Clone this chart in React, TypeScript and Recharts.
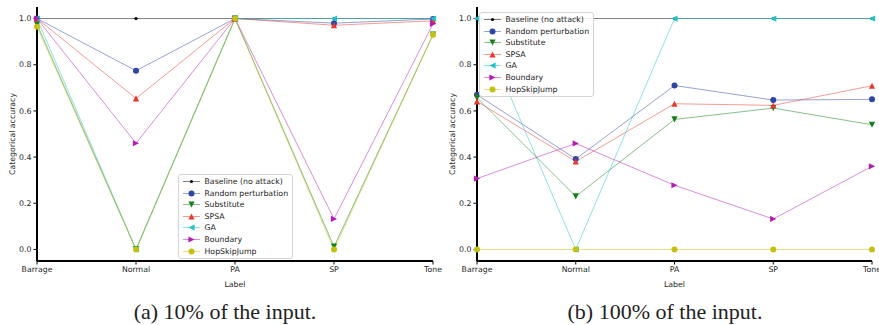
import { Legend, Line, LineChart, XAxis, YAxis } from "recharts";

const categories = ["Barrage", "Normal", "PA", "SP", "Tone"];
const yTicks = [0, 0.2, 0.4, 0.6, 0.8, 1.0];

// (a) 10% of the input
const baseline10 = [1, 1, 1, 1, 1];
const random10 = [1, 0.774, 1, 0.98, 0.998];
const substitute10 = [0.975, 0, 1, 0.012, 0.93];
const spsa10 = [1, 0.654, 1, 0.971, 0.99];
const ga10 = [1, 0, 1, 1, 1];
const boundary10 = [1, 0.46, 1, 0.132, 0.977];
const hop10 = [0.965, 0, 1, 0, 0.93];

// (b) 100% of the input
const baseline100 = [1, 1, 1, 1, 1];
const random100 = [0.67, 0.392, 0.71, 0.647, 0.65];
const substitute100 = [0.657, 0.23, 0.563, 0.612, 0.54];
const spsa100 = [0.641, 0.381, 0.631, 0.624, 0.709];
const ga100 = [1, 0, 1, 1, 1];
const boundary100 = [0.307, 0.459, 0.278, 0.132, 0.36];
const hop100 = [0, 0, 0, 0, 0];

const series = [
  { key: "baseline", name: "Baseline (no attack)", color: "#000000", marker: "dot" },
  { key: "random", name: "Random perturbation", color: "#2e45a6", marker: "o" },
  { key: "substitute", name: "Substitute", color: "#14801a", marker: "v" },
  { key: "spsa", name: "SPSA", color: "#e8392e", marker: "^" },
  { key: "ga", name: "GA", color: "#22c2c6", marker: "<" },
  { key: "boundary", name: "Boundary", color: "#b41db4", marker: ">" },
  { key: "hop", name: "HopSkipJump", color: "#c4c010", marker: "o" },
];

const buildRows = (vals: number[][]) =>
  categories.map((name, i) => {
    const row: any = { name };
    series.forEach((s, j) => {
      row[s.key] = vals[j][i];
    });
    return row;
  });

const data10 = buildRows([baseline10, random10, substitute10, spsa10, ga10, boundary10, hop10]);
const data100 = buildRows([baseline100, random100, substitute100, spsa100, ga100, boundary100, hop100]);

const FONT = "'DejaVu Sans', sans-serif";

const Marker = ({ kind, cx, cy, color }: any) => {
  const s = 3.1;
  if (kind === "dot") return <circle cx={cx} cy={cy} r={1.6} fill={color} />;
  if (kind === "o") return <circle cx={cx} cy={cy} r={3} fill={color} />;
  let pts = "";
  if (kind === "v") pts = `${cx - s},${cy - s} ${cx + s},${cy - s} ${cx},${cy + s}`;
  if (kind === "^") pts = `${cx - s},${cy + s} ${cx + s},${cy + s} ${cx},${cy - s}`;
  if (kind === "<") pts = `${cx + s},${cy - s} ${cx + s},${cy + s} ${cx - s},${cy}`;
  if (kind === ">") pts = `${cx - s},${cy - s} ${cx - s},${cy + s} ${cx + s},${cy}`;
  return <polygon points={pts} fill={color} />;
};

const renderLegend = () => (
  <div
    style={{
      border: "1px solid #d4d4d4",
      borderRadius: 3,
      background: "rgba(255,255,255,0.85)",
      padding: "1px 4px 1px 4px",
      fontFamily: FONT,
      fontSize: 7.8,
      color: "#222",
    }}
  >
    {series.map((s) => (
      <div key={s.key} style={{ display: "flex", alignItems: "center", height: 11.55 }}>
        <svg width={17} height={11} style={{ display: "block" }}>
          <line x1={0} x2={17} y1={5.5} y2={5.5} stroke={s.color} strokeOpacity={0.5} strokeWidth={1} />
          <Marker kind={s.marker} cx={8.5} cy={5.5} color={s.color} />
        </svg>
        <span style={{ marginLeft: 4.5, whiteSpace: "nowrap" }}>{s.name}</span>
      </div>
    ))}
  </div>
);

const tickStyle = { fontSize: 7.8, fontFamily: FONT, fill: "#262626" };
const frame = { stroke: "#000", strokeWidth: 2 };

const Panel = ({ data, width, rightGap, legendLeft, legendTop }: any) => (
  <LineChart width={width} height={290} data={data} margin={{ top: 7, right: rightGap, left: 0, bottom: 0 }}>
    <XAxis
      dataKey="name"
      type="category"
      interval={0}
      tickSize={3.5}
      tickMargin={2}
      tick={tickStyle}
      tickLine={{ stroke: "#000" }}
      axisLine={frame}
      height={29}
      label={{ value: "Label", position: "insideBottom", offset: 3, style: tickStyle }}
    />
    <XAxis xAxisId="top" orientation="top" dataKey="name" tick={false} tickLine={false} height={0} axisLine={frame} />
    <YAxis
      type="number"
      domain={[-0.05, 1.05]}
      ticks={yTicks}
      allowDataOverflow
      tickFormatter={(v: number) => v.toFixed(1)}
      tickSize={3.5}
      tickMargin={2}
      tick={tickStyle}
      tickLine={{ stroke: "#000" }}
      axisLine={frame}
      width={37}
      label={{ value: "Categorical accuracy", angle: -90, position: "center", dx: -6, style: tickStyle }}
    />
    <YAxis yAxisId="r" orientation="right" width={0} tick={false} tickLine={false} axisLine={frame} domain={[0, 1]} />
    <Legend
      layout="vertical"
      align="center"
      verticalAlign="middle"
      content={renderLegend}
      wrapperStyle={{ left: legendLeft, top: legendTop, width: "auto" }}
    />
    {series.map((s) => (
      <Line
        key={s.key}
        dataKey={s.key}
        name={s.name}
        type="linear"
        stroke={s.color}
        strokeOpacity={0.5}
        strokeWidth={1}
        isAnimationActive={false}
        activeDot={false}
        dot={(p: any) => <Marker key={`${s.key}-${p.index}`} kind={s.marker} cx={p.cx} cy={p.cy} color={s.color} />}
      />
    ))}
  </LineChart>
);

const captionStyle: any = {
  position: "absolute",
  top: 300,
  width: 450,
  textAlign: "center",
  fontFamily: "'Liberation Serif', 'Times New Roman', serif",
  fontSize: 22,
  lineHeight: "24px",
  color: "#222",
};

export default function App() {
  return (
    <div style={{ position: "absolute", left: 0, top: 0, width: 879, height: 325, background: "#fff", overflow: "hidden" }}>
      <div style={{ position: "absolute", left: 440, top: 0 }}>
        <Panel data={data100} width={439} rightGap={7} legendLeft={39} legendTop={12} />
      </div>
      <div style={{ position: "absolute", left: 0, top: 0 }}>
        <Panel data={data10} width={452} rightGap={19} legendLeft={178} legendTop={174} />
      </div>
      <div style={{ ...captionStyle, left: 0 }}>(a) 10% of the input.</div>
      <div style={{ ...captionStyle, left: 440 }}>(b) 100% of the input.</div>
    </div>
  );
}
